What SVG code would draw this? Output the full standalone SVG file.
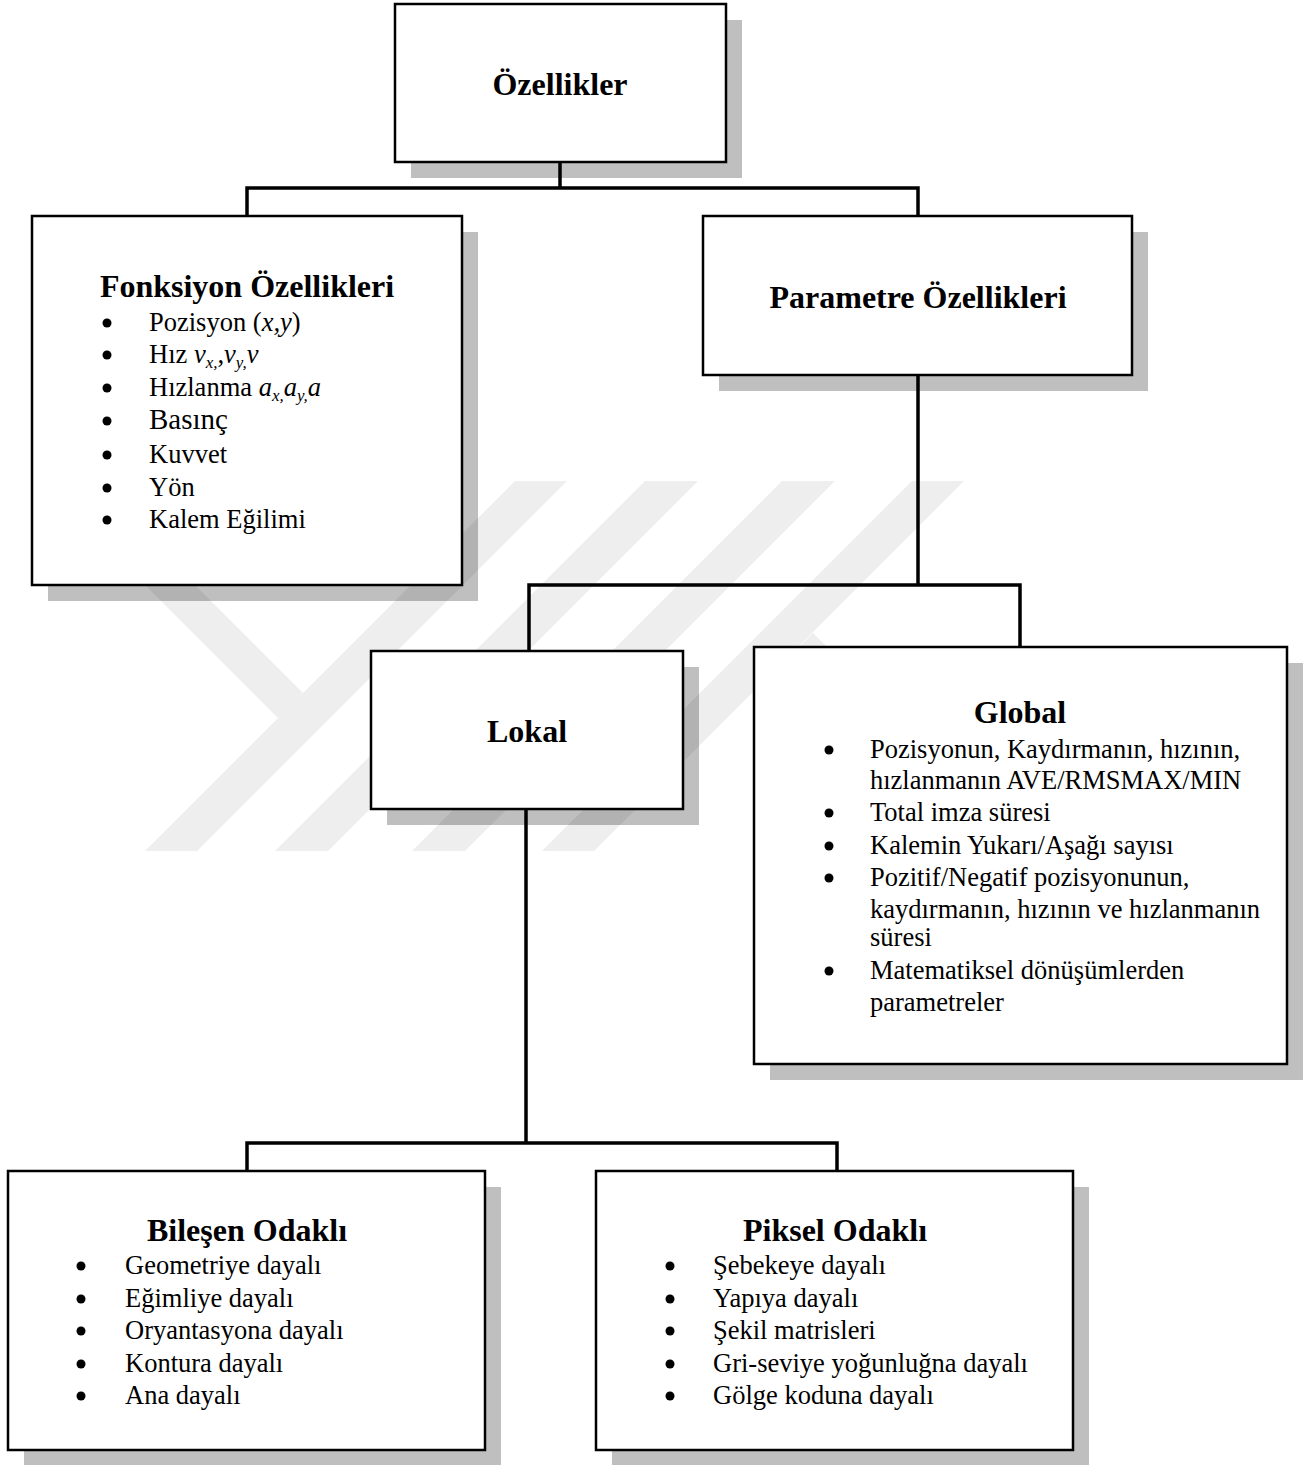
<svg xmlns="http://www.w3.org/2000/svg" width="1313" height="1465" viewBox="0 0 1313 1465">
<style>
.box{fill:#fff;stroke:#000;stroke-width:2.5}
.sh{fill:#000;fill-opacity:0.25}
.wm{fill:#eeeeee}
.con{fill:none;stroke:#000;stroke-width:3.5}
.dot{fill:#000}
text{font-family:"Liberation Serif","Times New Roman",serif;fill:#000}
.t{font-size:32px;font-weight:bold;text-anchor:middle}
.b{font-size:26.5px}
.i{font-style:italic}
.sub{font-size:17px}
</style>
<rect width="1313" height="1465" fill="#fff"/>
<g id="watermark">
<polygon class="wm" points="515,481 567,481 197,851 145,851"/>
<polygon class="wm" points="645,481 698,481 328,851 275,851"/>
<polygon class="wm" points="782,481 835,481 465,851 412,851"/>
<polygon class="wm" points="912,481 964,481 594,851 542,851"/>
<polygon class="wm" points="41,481 91,481 303,693 278,718"/>
<polygon class="wm" points="813,633 790,656 900,766 923,743"/>
</g>
<g id="shadows">
<rect class="sh" x="411" y="20" width="331" height="158"/>
<rect class="sh" x="48" y="232" width="430" height="369"/>
<rect class="sh" x="719" y="232" width="429" height="159"/>
<rect class="sh" x="387" y="667" width="312" height="158"/>
<rect class="sh" x="770" y="663" width="533" height="417"/>
<rect class="sh" x="24" y="1187" width="477" height="279"/>
<rect class="sh" x="612" y="1187" width="477" height="279"/>
</g>
<g id="connectors">
<path class="con" d="M560,162 V188 M247,216 V188 H918 V216"/>
<path class="con" d="M918,375 V585 M529,650 V585 H1020 V647"/>
<path class="con" d="M526,809 V1143 M247,1171 V1143 H837 V1171"/>
</g>
<g id="n-ozellikler">
<rect class="box" x="395" y="4" width="331" height="158"/>
<text class="t" x="560" y="95">Özellikler</text>
</g>
<g id="n-fonksiyon">
<rect class="box" x="32" y="216" width="430" height="369"/>
<text class="t" x="247" y="297">Fonksiyon Özellikleri</text>
<circle class="dot" cx="107" cy="323" r="4.5"/>
<text class="b" x="149" y="331">Pozisyon (<tspan class="i">x,y</tspan>)</text>
<circle class="dot" cx="107" cy="355" r="4.5"/>
<text class="b" x="149" y="363">Hız <tspan class="i">v</tspan><tspan class="i sub" dy="5">x,</tspan><tspan dy="-5">,</tspan><tspan class="i">v</tspan><tspan class="i sub" dy="5">y,</tspan><tspan class="i" dy="-5">v</tspan></text>
<circle class="dot" cx="107" cy="388" r="4.5"/>
<text class="b" x="149" y="396">Hızlanma <tspan class="i">a</tspan><tspan class="i sub" dy="5">x,</tspan><tspan class="i" dy="-5">a</tspan><tspan class="i sub" dy="5">y,</tspan><tspan class="i" dy="-5">a</tspan></text>
<circle class="dot" cx="107" cy="421" r="4.5"/>
<text class="b" x="149" y="429" style="font-size:29px">Basınç</text>
<circle class="dot" cx="107" cy="455" r="4.5"/>
<text class="b" x="149" y="463">Kuvvet</text>
<circle class="dot" cx="107" cy="488" r="4.5"/>
<text class="b" x="149" y="496">Yön</text>
<circle class="dot" cx="107" cy="520" r="4.5"/>
<text class="b" x="149" y="528">Kalem Eğilimi</text>
</g>
<g id="n-parametre">
<rect class="box" x="703" y="216" width="429" height="159"/>
<text class="t" x="918" y="308">Parametre Özellikleri</text>
</g>
<g id="n-lokal">
<rect class="box" x="371" y="651" width="312" height="158"/>
<text class="t" x="527" y="742">Lokal</text>
</g>
<g id="n-global">
<rect class="box" x="754" y="647" width="533" height="417"/>
<text class="t" x="1020" y="723">Global</text>
<circle class="dot" cx="829" cy="750" r="4.5"/>
<text class="b" x="870" y="758">Pozisyonun, Kaydırmanın, hızının,</text>
<text class="b" x="870" y="789">hızlanmanın AVE/RMSMAX/MIN</text>
<circle class="dot" cx="829" cy="813" r="4.5"/>
<text class="b" x="870" y="821">Total imza süresi</text>
<circle class="dot" cx="829" cy="846" r="4.5"/>
<text class="b" x="870" y="854">Kalemin Yukarı/Aşağı sayısı</text>
<circle class="dot" cx="829" cy="878" r="4.5"/>
<text class="b" x="870" y="886">Pozitif/Negatif pozisyonunun,</text>
<text class="b" x="870" y="918">kaydırmanın, hızının ve hızlanmanın</text>
<text class="b" x="870" y="946">süresi</text>
<circle class="dot" cx="829" cy="971" r="4.5"/>
<text class="b" x="870" y="979">Matematiksel dönüşümlerden</text>
<text class="b" x="870" y="1011">parametreler</text>
</g>
<g id="n-bilesen">
<rect class="box" x="8" y="1171" width="477" height="279"/>
<text class="t" x="247" y="1241">Bileşen Odaklı</text>
<circle class="dot" cx="81" cy="1266" r="4.5"/>
<text class="b" x="125" y="1274">Geometriye dayalı</text>
<circle class="dot" cx="81" cy="1299" r="4.5"/>
<text class="b" x="125" y="1307">Eğimliye dayalı</text>
<circle class="dot" cx="81" cy="1331" r="4.5"/>
<text class="b" x="125" y="1339">Oryantasyona dayalı</text>
<circle class="dot" cx="81" cy="1364" r="4.5"/>
<text class="b" x="125" y="1372">Kontura dayalı</text>
<circle class="dot" cx="81" cy="1396" r="4.5"/>
<text class="b" x="125" y="1404">Ana dayalı</text>
</g>
<g id="n-piksel">
<rect class="box" x="596" y="1171" width="477" height="279"/>
<text class="t" x="835" y="1241">Piksel Odaklı</text>
<circle class="dot" cx="670" cy="1266" r="4.5"/>
<text class="b" x="713" y="1274">Şebekeye dayalı</text>
<circle class="dot" cx="670" cy="1299" r="4.5"/>
<text class="b" x="713" y="1307">Yapıya dayalı</text>
<circle class="dot" cx="670" cy="1331" r="4.5"/>
<text class="b" x="713" y="1339">Şekil matrisleri</text>
<circle class="dot" cx="670" cy="1364" r="4.5"/>
<text class="b" x="713" y="1372">Gri-seviye yoğunluğna dayalı</text>
<circle class="dot" cx="670" cy="1396" r="4.5"/>
<text class="b" x="713" y="1404">Gölge koduna dayalı</text>
</g>
</svg>
